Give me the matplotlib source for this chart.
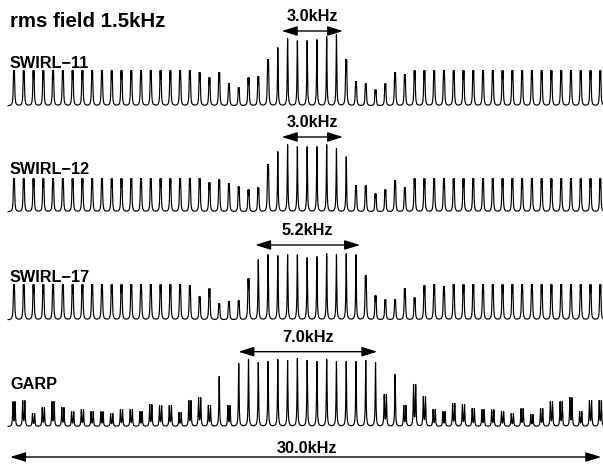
import numpy as np
import matplotlib
matplotlib.use('Agg')
import matplotlib.pyplot as plt

plt.rcParams['font.family'] = ['Liberation Sans', 'DejaVu Sans']

# sideband offsets in kHz (61 lines, 0.5 kHz apart)
offsets = np.arange(-30, 31) * 0.5

# peak heights (arbitrary units)
swirl11 = [35, 35, 35, 35, 35, 35, 35, 35, 35, 35, 35, 35, 35, 35, 35, 35, 35, 35, 35,
           33, 28, 33, 22, 18, 28, 29, 46, 58, 67, 65, 65, 66, 69, 71, 46, 24, 22, 16, 22,
           33, 31, 35, 35, 35, 35, 35, 35, 35, 35, 35, 35, 35, 35, 35, 35, 35, 35, 35, 35, 35, 35]
swirl12 = [33, 33, 33, 33, 33, 33, 33, 33, 33, 33, 33, 33, 33, 33, 33, 33, 33, 33, 33,
           33, 29, 32, 28, 25, 22, 24, 47, 60, 67, 65, 65, 65, 67, 63, 55, 26, 26, 18, 22,
           31, 24, 33, 33, 33, 33, 33, 33, 33, 33, 33, 33, 33, 33, 33, 33, 33, 33, 33, 33, 33, 33]
swirl17 = [35, 35, 35, 35, 35, 35, 35, 35, 35, 35, 35, 35, 35, 35, 35, 35, 35, 35, 34,
           23, 31, 16, 18, 19, 41, 60, 65, 64, 65, 65, 62, 63, 66, 65, 66, 65, 44, 24, 20,
           20, 31, 22, 34, 35, 33, 35, 35, 35, 35, 35, 35, 35, 35, 35, 35, 35, 35, 35, 35, 35, 35]
garp = [25, 26, 13, 19, 25, 19, 15, 17, 15, 15, 13, 17, 17, 15, 22, 21, 21, 14, 26,
        29, 21, 50, 21, 63, 67, 64, 65, 67, 66, 68, 66, 65, 67, 65, 65, 65, 66, 64, 32,
        52, 21, 42, 30, 17, 15, 23, 22, 18, 17, 17, 15, 13, 18, 12, 18, 25, 25, 29, 15, 26, 26]

names = ['SWIRL\u221211', 'SWIRL\u221212', 'SWIRL\u221217', 'GARP']
spectra = [swirl11, swirl12, swirl17, garp]
widths = ['3.0kHz', '3.0kHz', '5.2kHz', '7.0kHz']
spans = [(-1.3, 1.84), (-1.3, 1.84), (-2.66, 2.71), (-3.52, 3.59)]
total_label = '30.0kHz'

baselines_px = [106, 212, 320, 426.7]
splits = [0.045, 0.045, 0.045, 0.11]
gamma = 0.02

W, H = 603, 468
fig = plt.figure(figsize=(W / 100, H / 100), dpi=100)

freq = np.linspace(-15.3, 15.2, 20000)


def lor(d):
    return gamma ** 2 / (gamma ** 2 + d ** 2)


def make_trace(heights, split):
    y = np.zeros_like(freq)
    for f0, h in zip(offsets, heights):
        if h < 50:
            amp = h / (1 + lor(split))
            y += amp * lor(freq - f0 + split / 2) + amp * lor(freq - f0 - split / 2)
        else:
            y += h * lor(freq - f0)
    return y


xlim = (-15.25, 15.14)
left = 9.1 / W
for k in range(4):
    b = baselines_px[k]
    ax = fig.add_axes([left, 1 - (b + 5) / H, 1 - left, 100 / H])
    ax.set_xlim(xlim)
    ax.set_ylim(-5, 95)
    ax.axis('off')
    ax.plot(freq, make_trace(spectra[k], splits[k]), color='black', lw=0.85, clip_on=False)

    ax.text(xlim[0] + 0.04, 38, names[k], fontsize=11.7, fontweight='bold',
            ha='left', va='baseline')
    a, c = spans[k]
    ax.annotate('', xy=(a, 75), xytext=(c, 75),
                arrowprops=dict(arrowstyle='<|-|>,head_length=0.55,head_width=0.17',
                                mutation_scale=17, lw=1, color='black',
                                shrinkA=0, shrinkB=0))
    ax.text((a + c) / 2, 85, widths[k], fontsize=11.7, fontweight='bold',
            ha='center', va='baseline')

    if k == 3:
        ax.annotate('', xy=(-15.2, -30.3), xytext=(15.05, -30.3),
                    arrowprops=dict(arrowstyle='<|-|>,head_length=0.55,head_width=0.17',
                                    mutation_scale=17, lw=1, color='black',
                                    shrinkA=0, shrinkB=0), annotation_clip=False)
        ax.text(0.0, -26, total_label, fontsize=11.7, fontweight='bold',
                ha='center', va='baseline')

fig.text(10 / W, 1 - 26.7 / H, 'rms field 1.5kHz', fontsize=14.7, fontweight='bold',
         ha='left', va='baseline')

fig.savefig('out.png', dpi=100)
